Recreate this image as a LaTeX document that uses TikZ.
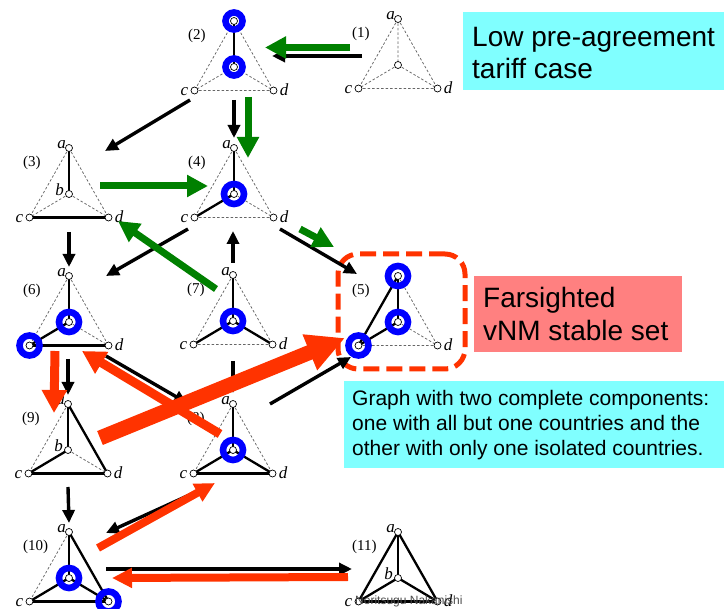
\documentclass[tikz,border=0pt]{standalone}
\usepackage{fontspec}
\setmainfont{Liberation Serif}
\newfontfamily\sansf{Liberation Sans}
\usetikzlibrary{arrows.meta}
\definecolor{ringblue}{RGB}{0,0,255}
\definecolor{pgreen}{RGB}{0,128,0}
\definecolor{pred}{RGB}{255,51,0}
\definecolor{boxcyan}{RGB}{128,255,255}
\definecolor{boxsalmon}{RGB}{255,128,128}
\pgfdeclarelayer{back}
\pgfdeclarelayer{bg}
\pgfsetlayers{back,bg,main}
\tikzset{
  vtx/.style={circle, draw, fill=white, line width=0.7pt, minimum size=7pt, inner sep=0pt},
  dashe/.style={draw=black!60, line width=0.75pt, dash pattern=on 2.5pt off 2pt},
  soled/.style={line width=2.3pt},
  lbl/.style={font=\fontsize{17}{17}\selectfont\itshape, inner sep=0pt, anchor=base},
  numl/.style={font=\fontsize{15}{15}\selectfont, inner sep=0pt, anchor=west},
  ringst/.style={draw=ringblue, line width=6.6pt},
  blk/.style={line width=3.4pt, -{Triangle[length=13pt,width=12pt]}},
  grn/.style={draw=pgreen, line width=7pt, -{Triangle[length=21pt,width=21pt]}},
  redar/.style={draw=pred, line width=9pt, -{Triangle[length=23pt,width=24pt]}},
  redthin/.style={draw=pred, line width=8pt, -{Triangle[length=20pt,width=19pt]}},
  redbig/.style={draw=pred, line width=15pt, -{Triangle[length=38pt,width=36pt]}},
  boxn/.style={anchor=north west, inner sep=0pt},
  bigt/.style={font=\sansf\fontsize{28}{28}\selectfont, anchor=base west, inner sep=0pt},
  midt/.style={font=\sansf\fontsize{21}{21}\selectfont, anchor=base west, inner sep=0pt},
}
\newcommand\tetra[4]{%
  \node[vtx] (#1a) at (#2,#3) {};
  \node[vtx] (#1b) at (#2,#3+46) {};
  \node[vtx] (#1c) at (#2-39.5,#3+69.5) {};
  \node[vtx] (#1d) at (#2+39.5,#3+69.5) {};
  \node[numl] (#1n) at (#2-46,#3+15) {(#4)};
  \begin{pgfonlayer}{bg}
    \draw[dashe] (#1a.center) -- (#1b.center) (#1a.center) -- (#1c.center)
      (#1a.center) -- (#1d.center) (#1b.center) -- (#1c.center)
      (#1b.center) -- (#1d.center) (#1c.center) -- (#1d.center);
  \end{pgfonlayer}}
\newcommand\sol[2]{\begin{pgfonlayer}{bg}\draw[soled] (#1.center) -- (#2.center);\end{pgfonlayer}}
\newcommand\la[1]{\node[lbl] (#1la) at ([shift={(-7.5,1)}]#1a.center) {a};}
\newcommand\lb[1]{\node[lbl] (#1lb) at ([shift={(-9.5,2)}]#1b.center) {b};}
\newcommand\lc[1]{\node[lbl] (#1lc) at ([shift={(-10,5)}]#1c.center) {c};}
\newcommand\ld[1]{\node[lbl] (#1ld) at ([shift={(10.5,5)}]#1d.center) {d};}
\newcommand\ring[2][10]{\draw[ringst] (#2.center) circle[radius=#1pt];}
\newcommand\arr[4]{\coordinate (#1s) at #2; \coordinate (#1e) at #3; \draw[#4] (#1s) -- (#1e);}
\begin{document}
\begin{tikzpicture}[x=1pt,y=-1pt]
\useasboundingbox (0,0) rectangle (724,609);
% text boxes
\node[boxn, fill=boxcyan, minimum width=261pt, minimum height=78pt] (lowbox) at (463,12) {};
\node[bigt] (lowt1) at (472,47) {Low pre-agreement};
\node[bigt] (lowt2) at (472,79) {tariff case};
\node[boxn, fill=boxsalmon, minimum width=208pt, minimum height=76pt] (stabbox) at (474,276) {};
\node[bigt] (stabt1) at (483,308) {Farsighted};
\node[bigt] (stabt2) at (483,341) {vNM stable set};
\node[boxn, fill=boxcyan, minimum width=380pt, minimum height=87pt] (compbox) at (344,381) {};
\node[midt] (compt1) at (352,406) {Graph with two complete components:};
\node[midt] (compt2) at (352,431) {one with all but one countries and the};
\node[midt] (compt3) at (352,456) {other with only one isolated countries.};
% graphs
\tetra{g1}{398}{19}{1} \la{g1}\lc{g1}\ld{g1}
\tetra{g2}{234}{21}{2} \lc{g2}\ld{g2} \sol{g2a}{g2b}
\ring[8.5]{g2a}\ring[8.5]{g2b}
\tetra{g3}{69}{148}{3} \la{g3}\lb{g3}\lc{g3}\ld{g3} \sol{g3a}{g3b}\sol{g3c}{g3d}
\tetra{g4}{234}{148}{4} \la{g4}\lc{g4}\ld{g4} \sol{g4a}{g4b}\sol{g4b}{g4c}
\ring{g4b}
\tetra{g5}{398}{276}{5} \ld{g5} \sol{g5a}{g5b}\sol{g5a}{g5c}\sol{g5b}{g5c}
\ring{g5a}\ring{g5b}\ring{g5c}
\tetra{g6}{69}{276}{6} \la{g6}\ld{g6} \sol{g6a}{g6b}\sol{g6b}{g6c}\sol{g6c}{g6d}
\ring{g6b}\ring{g6c}
\tetra{g7}{233}{275}{7} \la{g7}\lc{g7}\ld{g7} \sol{g7a}{g7b}\sol{g7b}{g7c}\sol{g7b}{g7d}
\ring{g7b}
\tetra{g8}{233}{404}{8} \la{g8}\lc{g8}\ld{g8} \sol{g8a}{g8b}\sol{g8b}{g8c}\sol{g8b}{g8d}\sol{g8c}{g8d}
\ring{g8b}
\tetra{g9}{68}{404}{9} \la{g9}\lb{g9}\lc{g9}\ld{g9} \sol{g9a}{g9b}\sol{g9a}{g9d}\sol{g9b}{g9c}\sol{g9c}{g9d}
\tetra{g10}{69}{532}{10} \la{g10}\lc{g10} \sol{g10a}{g10b}\sol{g10a}{g10d}\sol{g10b}{g10c}\sol{g10b}{g10d}\sol{g10c}{g10d}
\ring{g10b}\ring{g10d}
\tetra{g11}{398}{532}{11} \la{g11}\lb{g11}\lc{g11}\ld{g11} \sol{g11a}{g11b}\sol{g11a}{g11c}\sol{g11a}{g11d}\sol{g11b}{g11c}\sol{g11b}{g11d}\sol{g11c}{g11d}
\node[font=\sansf\fontsize{12}{12}\selectfont, text=black!70, anchor=base west, inner sep=0pt] (author) at (355,605) {Noritsugu Nakanishi};
% stable set frame
\node[draw=pred, line width=5pt, dash pattern=on 16pt off 7pt, rounded corners=20pt, minimum width=127pt, minimum height=115pt, inner sep=0pt] (stableframe) at (401.5,311.5) {};
% black arrows
\arr{k1}{(362,56)}{(272,56)}{blk}
\arr{k2}{(190,100)}{(105,151)}{blk}
\arr{k3}{(234,100)}{(234,138)}{blk}
\arr{k4}{(69,232)}{(69,267)}{blk}
\arr{k5}{(188,229)}{(106,276)}{blk}
\arr{k6}{(233,263)}{(233,231)}{blk}
\arr{k7}{(280,229)}{(357,274)}{blk}
\arr{k8}{(68,359)}{(68,395)}{blk}
\arr{k9}{(106,356)}{(187,403)}{blk}
\arr{k10}{(233,361)}{(233,393)}{blk}
\arr{k11}{(270,404)}{(351,357)}{blk}
\arr{k12}{(68,487)}{(69,523)}{blk}
\arr{k13}{(196,492)}{(106,533)}{blk}
\arr{k14}{(106,569)}{(352,569)}{blk}
% green arrows
\arr{q1}{(350,47.5)}{(265,47.5)}{grn}
\arr{q2}{(248,97)}{(248,158)}{grn}
\arr{q3}{(100,186)}{(208,186)}{grn}
\arr{q4}{(216,289)}{(118,221)}{grn}
\arr{q5}{(300,229)}{(334,247)}{grn}
% red arrows
\arr{r1}{(55,351)}{(54,413)}{redar}
\arr{r2}{(220,434)}{(82,351)}{redar}
\arr{r3}{(100,438)}{(345,338)}{redbig}
\arr{r4}{(98,548)}{(215,483)}{redthin}
\arr{r5}{(348,577)}{(112,578)}{redthin}
\end{tikzpicture}
\end{document}
